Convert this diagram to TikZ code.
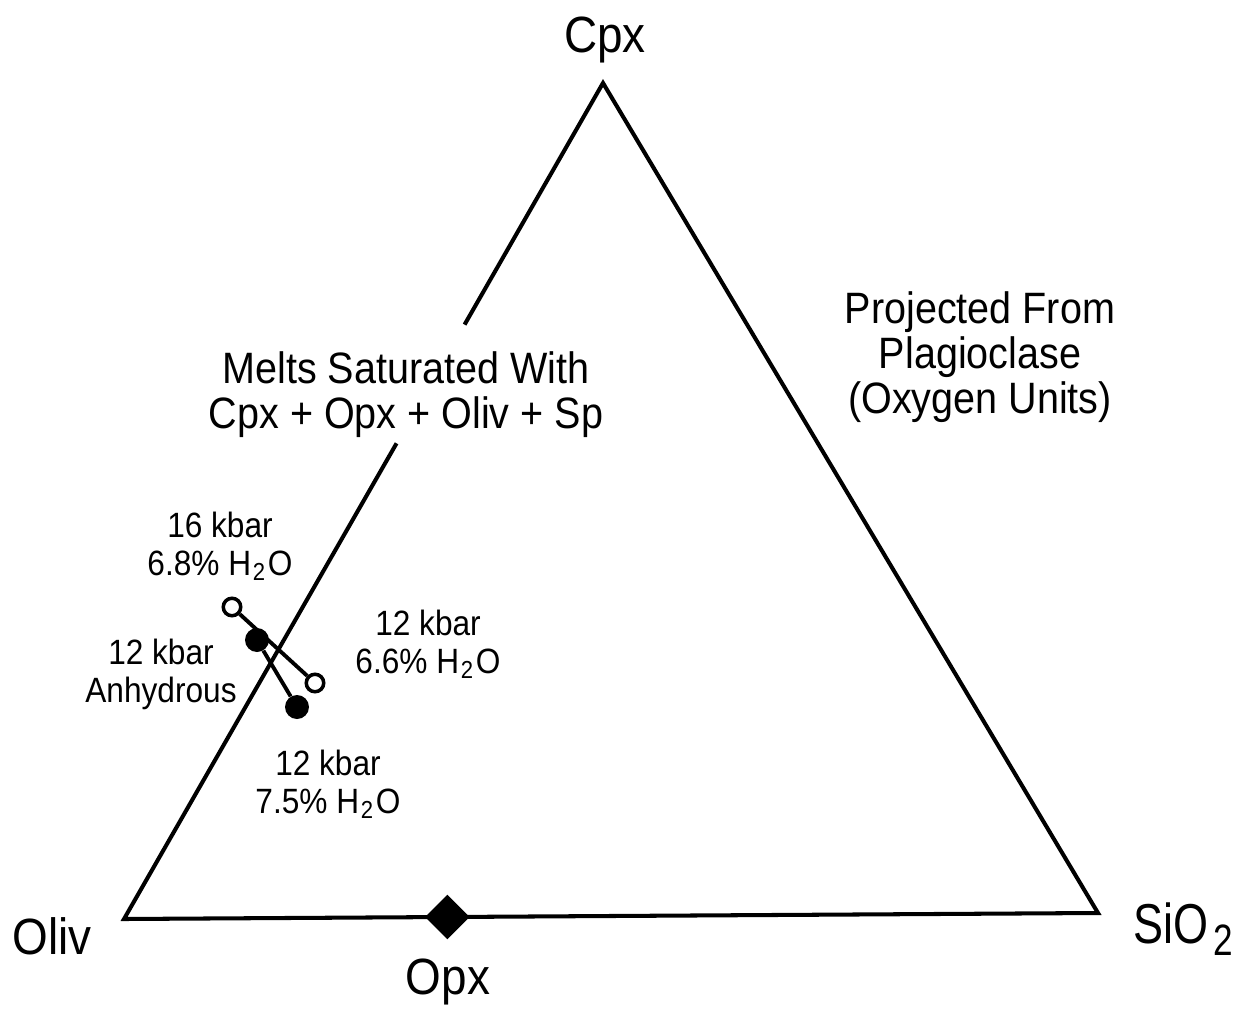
\documentclass[tikz,border=0pt]{standalone}
\usepackage{fontspec}
\setmainfont{Liberation Sans}
\newfontfamily\narrowfont{Liberation Sans}[FakeStretch=0.9]
\newfontfamily\slimfont{Liberation Sans}[FakeStretch=0.8]
\usetikzlibrary{shapes.geometric,calc,backgrounds}

\begin{document}
\begin{tikzpicture}[x=0.02cm,y=-0.02cm]
	\tikzstyle{corner} = [font=\narrowfont\fontsize{29}{31}\selectfont,anchor=base,inner sep=0pt]
	\tikzstyle{note}   = [align=center,anchor=base,inner sep=0pt,font=\narrowfont\fontsize{25}{25.5}\selectfont]
	\tikzstyle{run}    = [align=center,anchor=base,inner sep=0pt,font=\narrowfont\fontsize{20}{21.6}\selectfont]
	\tikzstyle{wet}    = [circle,draw,line width=2pt,fill=white,inner sep=0pt,minimum size=0.35cm]
	\tikzstyle{dry}    = [circle,fill=black,inner sep=0pt,minimum size=0.48cm]
	\tikzstyle{side}   = [line width=2.3pt]
	\tikzstyle{tie}    = [line width=2.2pt]
	
	\useasboundingbox (0,0) rectangle (1245,1011);
	
	% corners of the triangle
	\coordinate (oliv) at (124,919);
	\coordinate (sio)  at (1098,913);
	\coordinate (cpx)  at (603,83);
	\coordinate (gaplo) at ($(oliv)!0.569!(cpx)$);
	\coordinate (gaphi) at ($(oliv)!0.711!(cpx)$);
	
	\draw[side] (gaplo) -- (oliv) -- (sio) -- (cpx) -- (gaphi);
	\node[diamond,fill=black,inner sep=0pt,minimum size=0.9cm] (opx) at ($(oliv)!0.332!(sio)$) {};
	
	\node[corner] (cpxlab)  at (605,52)  {Cpx};
	\node[corner] (olivlab) at (52,954)  {Oliv};
	\node[corner] (opxlab)  at (448,994) {Opx};
	\node[corner,anchor=base west,font=\slimfont\fontsize{32}{34}\selectfont] (siolab) at (1133,943)
		{SiO\kern3pt\raisebox{-0.24cm}{\fontsize{25}{25}\selectfont 2}};
	
	\node[note] (proj)  at (980,413) {Projected From\\Plagioclase\\(Oxygen Units)};
	\node[note] (melts) at (406,428) {Melts Saturated With\\Cpx + Opx + Oliv + Sp};
	
	% experiments
	\node[wet] (w16) at (232,607) {};
	\node[dry] (d12) at (257,640) {};
	\node[wet] (w12) at (315,683) {};
	\node[dry] (d75) at (297,707) {};
	
	\begin{scope}[on background layer]
		\path (w16) edge[tie] (w12);
		\path (d12) edge[tie] (d75);
	\end{scope}
	
	\node[run] (l16)  at (220,575) {16 kbar\\6.8\% H\kern1pt\textsubscript{2}\kern1pt O};
	\node[run] (lan)  at (161,702) {12 kbar\\Anhydrous};
	\node[run] (l66)  at (428,673) {12 kbar\\6.6\% H\kern1pt\textsubscript{2}\kern1pt O};
	\node[run] (l75)  at (328,813) {12 kbar\\7.5\% H\kern1pt\textsubscript{2}\kern1pt O};
\end{tikzpicture}
\end{document}
